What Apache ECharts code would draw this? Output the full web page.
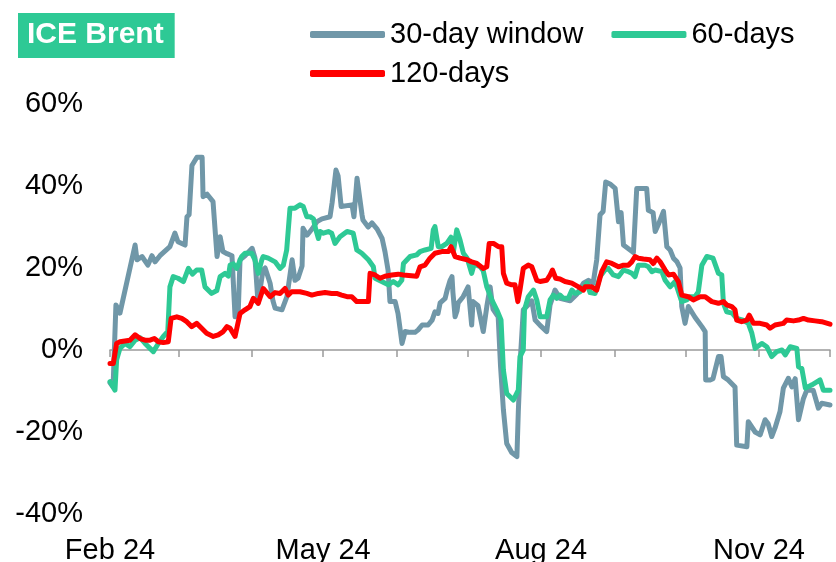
<!DOCTYPE html>
<html>
<head>
<meta charset="utf-8">
<script src="https://cdn.jsdelivr.net/npm/echarts@6/dist/echarts.min.js"></script>
<style>
  html, body { margin: 0; padding: 0; background: #fff; }
  #chart { width: 836px; height: 562px; }
</style>
</head>
<body>
<div id="chart"></div>
<script>
// axis range: Feb 1 2024 to Dec 1 2024, points are given as days after Feb 1
var startDate = new Date(2024, 1, 1).getTime();
var endDate = new Date(2024, 11, 1).getTime();
var DAY = 86400000;

// one label per month tick, starting at Feb
var monthLabels = ['Feb 24', '', '', 'May 24', '', '', 'Aug 24', '', '', 'Nov 24', ''];

var days30 = [0, 1.3, 2.5, 4.2, 10.6, 11.4, 13.5, 16, 17.7, 19, 21.1, 25.3, 27.4, 28.7, 31.7, 32.5, 33.4, 34.6, 36.7, 38.9,
  39.3, 41, 43.5, 45.2, 46.5, 47.7, 49.4, 51.5, 52.8, 54.1, 54.9, 57, 60, 61.2, 62.5, 63.3, 64.6, 65.5, 67.6, 68.8,
  69.7, 72.6, 74.7, 76.9, 78.1, 79.4, 81.1, 81.5, 83.2, 85.3, 87.4, 89.5, 92.9, 93.8, 95.4, 96.3, 97.6, 102.2, 103, 104.3,
  104.7, 106.4, 106.8, 109, 110.6, 112.8, 114.9, 116.1, 117.4, 118.2, 120.4, 121.6, 123.3, 123.7, 124.6, 126.7, 128.8, 130.1, 131.8, 134.3,
  136, 137.2, 138.5, 139.4, 141.5, 142.3, 143.6, 144.4, 144.8, 145.7, 146.5, 147, 149.1, 151.2, 152.7, 153.3, 155.4, 157.6, 159.1, 160.5,
  161.7, 163.9, 164.9, 166.1, 167.5, 169.6, 171.8, 172.4, 173.4, 174.5, 175.9, 178.1, 179.5, 181.6, 184.4, 185.8, 187.9, 190, 194.3, 197.1,
  199.9, 202, 204, 205.5, 206.9, 208.2, 209.3, 211.1, 213.3, 214.7, 215.8, 216.8, 219.6, 221, 222.4, 226.6, 227.3, 229.3, 230.2, 231.8,
  233.7, 235.1, 236.5, 237.9, 239.4, 240.7, 241.4, 242.8, 244.2, 247, 249.9, 251.3, 251.5, 253.4, 254.6, 256.9, 258, 259, 261, 263.9,
  264.6, 268.9, 269.5, 272.4, 274.5, 276.6, 277.9, 279.4, 280.8, 282.9, 284.3, 286.4, 287.9, 289.3, 290.7, 292.7, 294.2, 296.9, 299.1, 300.5, 304];
var vals30 = [-8, -9, 11, 9, 25.6, 22, 22.8, 20.7, 23, 21.5, 23, 25.2, 28.5, 26.4, 25.6, 32.5, 33, 45, 47, 47,
  37.4, 38, 36.2, 22.8, 27.6, 24, 23.5, 23, 8.1, 8.5, 22, 23, 24.8, 22.5, 11.4, 11.2, 19.5, 20, 16.3, 12,
  10.2, 9.8, 13, 22, 17, 17.5, 20.5, 29.7, 28, 29.5, 31.3, 32, 32.5, 36, 43.9, 42.5, 35, 35.4, 32.5, 41.9,
  41.5, 33, 31.7, 30, 31, 29.5, 27.2, 24, 19.5, 11.8, 11.8, 8.9, 1.6, 1.3, 4.5, 4.3, 4.3, 4.9, 6.1, 6.1,
  7.3, 9.3, 8.9, 11.5, 12.6, 14.5, 17, 17.9, 14, 8.1, 9.5, 11.5, 13, 15.4, 6.1, 11.8, 10.8, 4.5, 10.6, 15.4,
  10, 8.1, -4, -14.6, -22.8, -25, -26, -15, -0.8, 9.8, 10.6, 12, 7.3, 6, 4.5, 11, 14.6, 12.6, 12, 13.6,
  16.3, 17, 16.3, 22, 33, 33.8, 41, 40.5, 39.4, 31.3, 33.5, 25.6, 24.4, 23.8, 39.4, 39.4, 34.1, 33.5, 28.9, 31,
  33.8, 25.2, 24.4, 22.4, 21.5, 20, 10.6, 6.5, 10.6, 8, 5.7, 4.5, -7.3, -7.3, -7, -1.6, -1.6, -6.5, -7.3, -9,
  -23.2, -23.6, -17.5, -20, -20.7, -17, -18, -21.1, -19, -15, -9.3, -6.9, -9, -7, -17, -12, -9.8, -9.8, -14.2, -13, -13.4];

var days60 = [0, 1.3, 2.1, 2.8, 4.2, 6.3, 8.4, 10.6, 12.7, 14.8, 16.9, 18.3, 20.4, 22.5, 24.4, 25.3, 26.7, 28.7, 31, 33.1,
  34.8, 36.6, 38.7, 40.1, 42.9, 45.1, 46.5, 48.6, 50, 50.7, 52.1, 53.5, 55.6, 57, 59.8, 61.2, 62.6, 64.1, 64.7, 66.8,
  69.7, 71.8, 73.2, 74.6, 76, 78.1, 80.2, 81.6, 83.1, 84.5, 85.9, 86.6, 88, 88.7, 90.1, 92.2, 93.6, 95, 97.1, 100.1,
  102.7, 104.2, 106.3, 109.1, 111.2, 111.9, 114.7, 117.5, 119.6, 121.7, 123.2, 123.9, 126.7, 129.5, 130.9, 133, 135.6, 136.5, 137.2, 138.6,
  140.1, 142.2, 144, 145, 146.4, 147.8, 149.2, 150.8, 152.7, 153.8, 156.3, 157.6, 159.1, 161.2, 163.3, 165.1, 165.7, 166.1, 166.8, 167.5,
  170.3, 172.4, 173.1, 174.5, 175, 176.6, 178.8, 180.2, 181.6, 184.4, 185.8, 187.2, 188.6, 190, 191.4, 193.5, 195, 196.4, 198.5, 201.4,
  202.7, 204.8, 206.9, 209, 210.4, 212.5, 214.7, 216.8, 218.9, 220.3, 221.7, 223.1, 225.9, 227.3, 228.8, 230.2, 233, 234.4, 236.5, 238.6,
  240.7, 241.4, 243.5, 244.9, 247, 248.4, 249.9, 252, 254.6, 256.9, 258.3, 259, 260.4, 262.7, 264.6, 267.3, 269.5, 271, 272.4, 275.2,
  277.3, 279.4, 281.5, 283.7, 285.1, 287.2, 290, 290.7, 292.1, 293.6, 296.4, 299.8, 301.2, 304];
var vals60 = [-7.7, -9, -9.8, -2.4, 0.4, 1.6, 0.8, 2.4, 3, 1.6, 0.4, -0.4, 1.6, 3.3, 4.5, 15.4, 17.9, 17.5, 16.7, 19.9,
  18.5, 19.5, 19.5, 15.4, 13.8, 14.5, 17.9, 18.7, 18, 20.7, 21, 19.9, 22.8, 23.6, 23.6, 22, 18.7, 22, 22.8, 22.4,
  21.5, 19.9, 20.7, 24.4, 34.6, 34.6, 35.4, 35, 32.5, 32.5, 32, 30, 27.2, 28.9, 28.5, 28.9, 28.5, 26, 27.6, 28.9,
  28.5, 24.4, 23.6, 22, 20.3, 17.5, 16.7, 15.9, 16.7, 15.9, 17, 21.1, 22.8, 23.2, 24, 24.4, 24.8, 29.3, 30.1, 25.2,
  25.2, 26, 27.5, 24, 29.3, 26.8, 23.6, 22.4, 18.7, 21, 20.3, 19.3, 15.4, 12.2, 9.8, 7.3, 0, -4.9, -5.3, -10.6,
  -12.2, -9.8, -1.6, 0, 9.8, 13, 14.6, 12.2, 8.1, 8.1, 12.2, 13.4, 12.6, 13.4, 12.6, 12.6, 14.6, 13.8, 14.2, 16.3,
  14, 13.8, 17.9, 19.5, 19.9, 18.3, 17.9, 19.5, 19.1, 18.7, 17.9, 20.7, 20.7, 20.3, 19.1, 19.5, 19.1, 17, 15.4, 16.7,
  13, 11.8, 12.2, 13, 13, 14.2, 20.7, 22.8, 22.4, 18.7, 18.3, 11.4, 9.3, 9, 7.7, 7.3, 6.5, 4.1, 0.4, 1.6,
  0.8, -1.6, -0.4, 0, -1.2, 0.8, 0.4, -4.1, -4.5, -9.3, -8.5, -7.3, -9.8, -9.8];

var days120 = [0, 1.4, 2.8, 4.2, 6.3, 8.4, 10.6, 12.7, 14.8, 16.9, 18.7, 20.4, 22.5, 24.6, 25.8, 28.2, 30.3, 32.4, 34.5, 36.6,
  38.7, 40.8, 43.6, 45.7, 47.8, 49.4, 50.7, 52.8, 54.9, 57, 59.1, 60.5, 62.6, 64.7, 66.2, 67.6, 69.7, 71.8, 73.9, 75.3,
  76.7, 80.2, 83.1, 85.2, 88, 90.8, 93.6, 95.7, 97.8, 100.1, 102.1, 104.2, 109.1, 109.8, 111.9, 114, 116.1, 119, 121.7, 123.9,
  129.5, 130.9, 133, 135.1, 137.2, 140.1, 142.9, 144, 145.7, 147.8, 150.8, 152.7, 154.9, 157.6, 159.1, 160.1, 161.9, 164, 165.4, 166.1,
  167.5, 169.6, 171, 172.2, 173.1, 174.5, 176.6, 178.1, 180.2, 181.6, 184.4, 185.8, 186.8, 188.2, 190, 192.1, 195, 197.8, 199.9, 200.6,
  203.4, 205.5, 207.6, 209.7, 211.9, 214.7, 216.8, 218.9, 220.3, 221.7, 223.1, 225.2, 228, 229.4, 230.9, 232.3, 234.4, 235.8, 237.9, 240,
  241.4, 244.2, 246.3, 247.8, 249.2, 251.3, 254.1, 256.9, 259, 260.4, 262.5, 263.9, 264.6, 266.7, 268.9, 269.9, 271.7, 274.5, 277.3, 278.7,
  280.8, 284.3, 285.7, 288.6, 290.7, 292.8, 294.9, 297.7, 300.5, 304];
var vals120 = [-3.3, -3.3, 1.6, 2, 2.2, 2.4, 3.7, 2.8, 2.4, 2.4, 2.8, 2, 1.8, 2, 7.7, 8.1, 7.7, 6.9, 5.7, 6.5,
  5.3, 4.1, 3.3, 3.7, 4.5, 5.7, 5.3, 3.3, 8.9, 9.8, 10.6, 12.6, 11.4, 15, 14, 13, 14, 13.8, 15, 13.4,
  14.2, 14.2, 13.8, 13.4, 13.8, 14, 13.8, 13.8, 13.4, 13, 13, 11.8, 11.8, 18.7, 18.3, 17.5, 18, 18.3, 18.5, 18.3,
  18, 20.3, 20.7, 22.4, 23.6, 24, 24, 25.2, 22.8, 22.4, 22, 21.5, 21.1, 19.9, 20.3, 26, 26, 25.2, 25.2, 18.7,
  16.3, 15.9, 15.9, 11.8, 14.6, 19.9, 20.7, 20.3, 17, 16.7, 17, 18.3, 19.5, 17.5, 17.3, 16.7, 16.3, 15.4, 14.6, 15.4,
  15.4, 14.6, 19.1, 21.5, 21.1, 20.3, 20.7, 20.7, 21.5, 22.8, 22.4, 22.2, 22, 21.1, 22.4, 21.5, 19.5, 18.3, 18.5, 16.7,
  13.4, 13, 12.2, 12.6, 13, 13, 11.8, 11.4, 11.8, 11, 10.6, 9.8, 7.3, 6.9, 7.3, 8.5, 6.5, 6.5, 6.1, 5.3,
  6.1, 6.5, 7.3, 7.1, 7.3, 7.7, 7.3, 7.1, 6.9, 6.3];

var fontName = '"Liberation Sans", Arial, sans-serif';

function toPoints(days, vals) {
  return days.map(function (d, i) {
    return [startDate + d * DAY, vals[i]];
  });
}

function lineSeries(name, color, days, vals) {
  return {
    name: name,
    type: 'line',
    xAxisIndex: 0,
    showSymbol: false,
    symbol: 'none',
    color: color,
    lineStyle: { width: 5, color: color, join: 'round', cap: 'round' },
    data: toPoints(days, vals)
  };
}

var legendText = { fontSize: 29, color: '#000', fontFamily: fontName };

var chart = echarts.init(document.getElementById('chart'));
chart.setOption({
  animation: false,
  title: {
    text: 'ICE Brent',
    left: 18,
    top: 13,
    backgroundColor: '#2ec995',
    padding: [7, 11, 8, 9],
    textStyle: { color: '#fff', fontWeight: 'bold', fontSize: 30, fontFamily: fontName }
  },
  legend: [
    {
      data: ['30-day window', '60-days'],
      left: 305, top: 15,
      icon: 'roundRect', itemWidth: 75, itemHeight: 7, itemGap: 28,
      textStyle: legendText
    },
    {
      data: ['120-days'],
      left: 305, top: 54,
      icon: 'roundRect', itemWidth: 75, itemHeight: 7,
      textStyle: legendText
    }
  ],
  grid: { left: 110, right: 6, top: 104, bottom: 48, outerBoundsMode: 'none', containLabel: false },
  xAxis: [
    {
      type: 'time',
      min: startDate,
      max: endDate,
      splitNumber: 10,
      minInterval: 28 * DAY,
      maxInterval: 31 * DAY,
      axisLine: { onZero: true, lineStyle: { color: '#9a9a9a', width: 1.5 } },
      axisTick: { show: true, length: 7, lineStyle: { color: '#9a9a9a', width: 1.5 } },
      axisLabel: { show: false },
      splitLine: { show: false }
    },
    {
      type: 'time',
      min: startDate,
      max: endDate,
      splitNumber: 10,
      minInterval: 28 * DAY,
      maxInterval: 31 * DAY,
      position: 'bottom',
      axisLine: { show: false, onZero: false },
      axisTick: { show: false },
      splitLine: { show: false },
      axisLabel: {
        fontSize: 29,
        color: '#000',
        fontFamily: fontName,
        margin: 22,
        formatter: function (value) {
          var m = new Date(value).getMonth() - 1;
          return monthLabels[m] || '';
        }
      }
    }
  ],
  yAxis: {
    type: 'value',
    min: -40,
    max: 60,
    interval: 20,
    axisLine: { show: false },
    axisTick: { show: false },
    splitLine: { show: false },
    axisLabel: { formatter: '{value}%', fontSize: 29, color: '#000', fontFamily: fontName, margin: 27 }
  },
  series: [
    lineSeries('30-day window', '#7097a8', days30, vals30),
    lineSeries('60-days', '#2ec995', days60, vals60),
    lineSeries('120-days', '#ff0000', days120, vals120)
  ]
});
</script>
</body>
</html>
